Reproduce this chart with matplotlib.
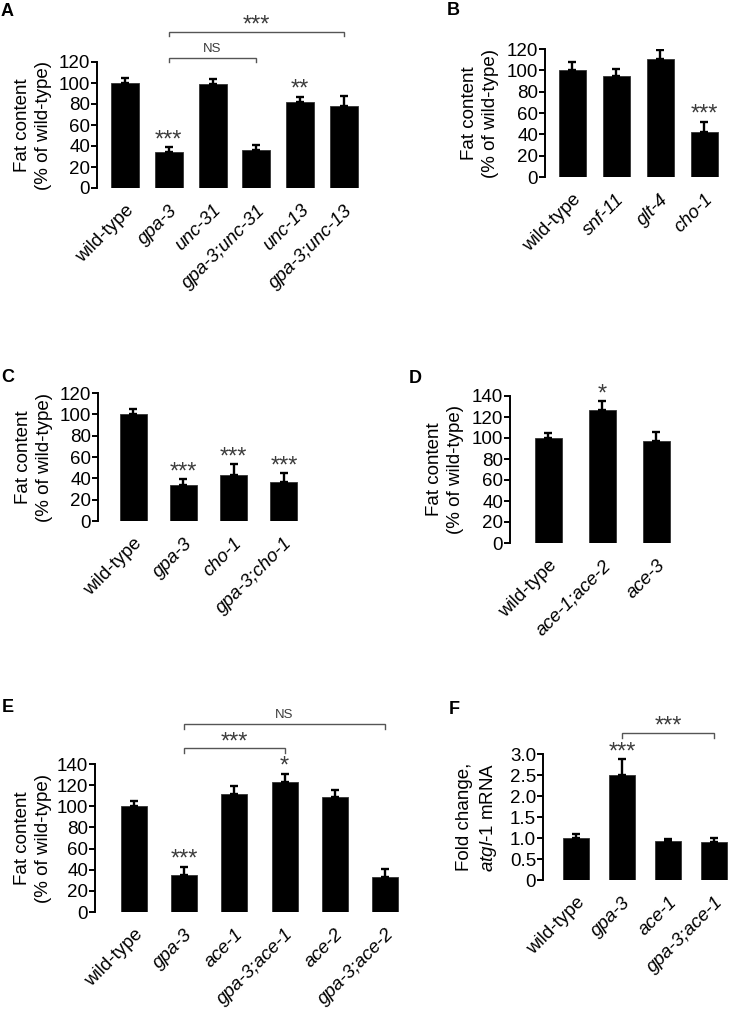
import numpy as np
import matplotlib
matplotlib.use("Agg")
import matplotlib.pyplot as plt
import matplotlib.transforms as mtransforms

plt.rcParams['font.family'] = ['Liberation Sans', 'DejaVu Sans']
plt.rcParams['mathtext.fontset'] = 'custom'
plt.rcParams['mathtext.rm'] = 'Liberation Sans'
plt.rcParams['mathtext.it'] = 'Liberation Sans:italic'

# panel A
a_labels = ["wild-type", "gpa-3", "unc-31", "gpa-3;unc-31", "unc-13", "gpa-3;unc-13"]
a_vals = [100, 34, 99, 36, 82, 78]
a_errs = [5, 5, 5, 5, 5, 10]
a_stars = ["", "***", "", "", "**", ""]

# panel B
b_labels = ["wild-type", "snf-11", "glt-4", "cho-1"]
b_vals = [100, 95, 111, 42]
b_errs = [8, 6, 8, 10]
b_stars = ["", "", "", "***"]

# panel C
c_labels = ["wild-type", "gpa-3", "cho-1", "gpa-3;cho-1"]
c_vals = [100, 34, 43, 37]
c_errs = [5, 5, 10, 8]
c_stars = ["", "***", "***", "***"]

# panel D
d_labels = ["wild-type", "ace-1;ace-2", "ace-3"]
d_vals = [100, 127, 97]
d_errs = [5, 8, 9]
d_stars = ["", "*", ""]

# panel E
e_labels = ["wild-type", "gpa-3", "ace-1", "gpa-3;ace-1", "ace-2", "gpa-3;ace-2"]
e_vals = [100, 35, 112, 123, 109, 33]
e_errs = [5, 8, 7, 8, 6, 8]
e_stars = ["", "***", "", "*", "", ""]

# panel F
f_labels = ["wild-type", "gpa-3", "ace-1", "gpa-3;ace-1"]
f_vals = [1.0, 2.5, 0.93, 0.91]
f_errs = [0.1, 0.38, 0.05, 0.09]
f_stars = ["", "***", "", ""]

W, H = 729, 1013
fig = plt.figure(figsize=(W / 100, H / 100), dpi=100)

GRAY = "#3c3c3c"


def panel(letter, letter_xy, axis_x, y0, ytop, ymax, ystep, c0, step, width,
          labels, vals, errs, stars, ylabel, label_x):
    n = len(vals)
    right = c0 + (n - 1) * step + width / 2 + 2
    ax = fig.add_axes([axis_x / W, 1 - y0 / H, (right - axis_x) / W, (y0 - ytop) / H])
    x = np.arange(n)
    ax.bar(x, vals, width=width / step, color="black", edgecolor="#333333", linewidth=0.6)
    ax.errorbar(x, vals, yerr=[np.zeros(n), errs], fmt="none", ecolor="black",
                elinewidth=1.7, capsize=3, capthick=1.7)
    ax.set_xlim(-(c0 - axis_x) / step, (right - c0) / step)
    ax.set_ylim(0, ymax)
    ax.set_yticks(np.arange(0, ymax + ystep / 2, ystep))
    if ystep < 1:
        ax.set_yticklabels(["0"] + ["%.1f" % v for v in np.arange(ystep, ymax + ystep / 2, ystep)])
    for s in ["top", "right", "bottom"]:
        ax.spines[s].set_visible(False)
    ax.spines["left"].set_linewidth(1.4)
    ax.tick_params(axis="y", direction="out", length=4, width=1.4, labelsize=13.5, pad=1)
    ax.tick_params(axis="x", length=0, pad=10)
    ax.set_xticks(x)
    ax.set_xticklabels(labels, rotation=45, ha="right", rotation_mode="anchor", fontsize=13.5)
    for t, lab in zip(ax.get_xticklabels(), labels):
        if lab != "wild-type":
            t.set_style("italic")
    for i, s in enumerate(stars):
        if s:
            ax.annotate(s, (i, vals[i] + errs[i]), xytext=(0, 0.5), textcoords="offset points",
                        ha="center", va="baseline", fontsize=17, color=GRAY)
    ax.set_ylabel(ylabel, fontsize=13.5, linespacing=1.3)
    tr = mtransforms.blended_transform_factory(fig.transFigure, ax.transAxes)
    ax.yaxis.set_label_coords(label_x / W, 0.5, transform=tr)
    fig.text(letter_xy[0] / W, 1 - letter_xy[1] / H, letter, fontsize=13,
             fontweight="bold", ha="left", va="top")
    return ax


def bracket(ax, i, j, y, drop, text, size, offset):
    ax.plot([i, i, j, j], [y - drop, y, y, y - drop], color="#555555", lw=1.0,
            clip_on=False, solid_joinstyle="miter")
    ax.annotate(text, ((i + j) / 2, y), xytext=(0, offset), textcoords="offset points",
                ha="center", va="baseline", fontsize=size, color=GRAY, annotation_clip=False)


fat = "Fat content\n(% of wild-type)"

ax_a = panel("A", (1, 3), 97, 188, 62, 120, 20, 125, 43.8, 28,
             a_labels, a_vals, a_errs, a_stars, fat, 52)
bracket(ax_a, 1, 3, 124, 4, "NS", 9.5, 4)
bracket(ax_a, 1, 5, 149, 4, "***", 17, 0)

panel("B", (447, 2), 545, 177, 49, 120, 20, 572, 44, 27,
      b_labels, b_vals, b_errs, b_stars, fat, 499)

panel("C", (1, 369), 98, 521, 393, 120, 20, 133, 50.3, 27,
      c_labels, c_vals, c_errs, c_stars, fat, 53)

panel("D", (409, 370), 510, 543, 396, 140, 20, 548, 54, 27,
      d_labels, d_vals, d_errs, d_stars, fat, 464)

ax_e = panel("E", (2, 699), 95, 912, 764, 140, 20, 134, 50.2, 26,
             e_labels, e_vals, e_errs, e_stars, fat, 52)
bracket(ax_e, 1, 3, 155, 5, "***", 17, 0)
bracket(ax_e, 1, 5, 178, 5, "NS", 9.5, 4)

ax_f = panel("F", (449, 701), 543, 880, 754, 3.0, 0.5, 576, 46, 26,
             f_labels, f_vals, f_errs, f_stars,
             "Fold change,\n$\\mathit{atgl}$-$\\mathit{1}$ mRNA", 499)
bracket(ax_f, 1, 3, 3.5, 0.12, "***", 17, 0)

fig.savefig("out.png", dpi=100)
